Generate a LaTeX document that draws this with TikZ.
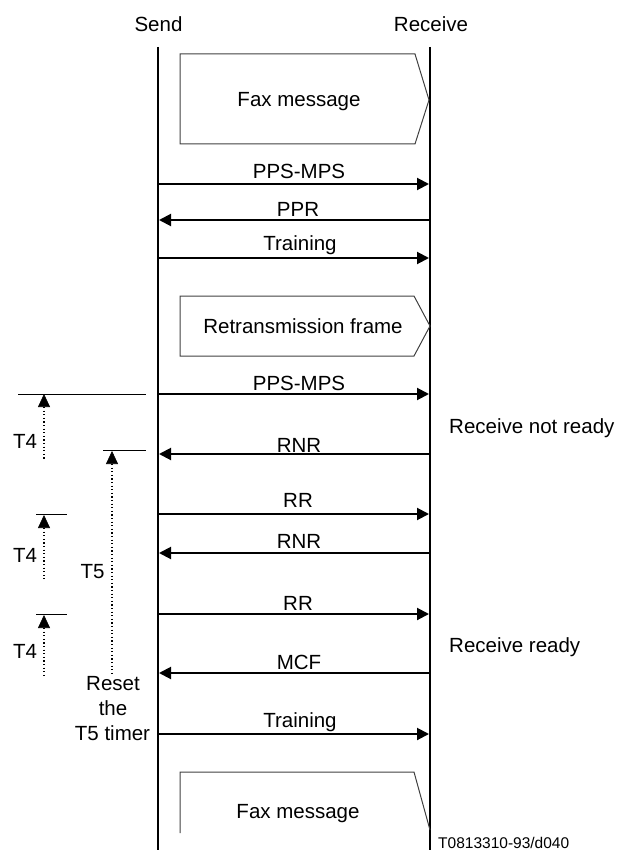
\documentclass[tikz,border=0pt]{standalone}
\usepackage{fontspec}
\setmainfont{Liberation Sans}
\usetikzlibrary{arrows.meta}
\begin{document}
\begin{tikzpicture}[x=1pt,y=-1pt,
  lifeline/.style={line width=2pt},
  msg/.style={line width=2pt,-{Triangle[length=12pt,width=12pt]}},
  msgbox/.style={line width=1pt,draw=black!75,line join=miter},
  lbl/.style={font=\fontsize{20.5}{25}\selectfont,anchor=base,inner sep=0pt},
  sidelbl/.style={font=\fontsize{20.5}{25}\selectfont,anchor=base west,inner sep=0pt},
  reflbl/.style={font=\fontsize{15.5}{18}\selectfont,anchor=base west,inner sep=0pt},
  guide/.style={line width=1pt},
  dotline/.style={line width=1.2pt,dash pattern=on 1.2pt off 2.4pt},
  uptip/.style={line width=0.6pt,-{Triangle[length=13pt,width=12pt]}}
]
\useasboundingbox (0,0) rectangle (618,850);

% headers and lifelines
\node[lbl] (send) at (158.5,32) {Send};
\node[lbl] (recv) at (431,32) {Receive};
\coordinate (stop) at (158,47);
\coordinate (sbot) at (158,850);
\coordinate (rtop) at (430,47);
\coordinate (rbot) at (430,850);
\draw[lifeline] (stop) -- (sbot);
\draw[lifeline] (rtop) -- (rbot);

% fax message (top)
\draw[msgbox] (180,54) -- (415,54) -- (429,100) -- (415,144) -- (180,144) -- cycle;
\node[lbl] (fax1) at (299,107) {Fax message};

% messages
\coordinate (s1) at (158,184); \coordinate (r1) at (429,184);
\draw[msg] (s1) -- (r1);
\node[lbl] (m1) at (299,179) {PPS-MPS};

\coordinate (s2) at (159,220); \coordinate (r2) at (430,220);
\draw[msg] (r2) -- (s2);
\node[lbl] (m2) at (298,216) {PPR};

\coordinate (s3) at (158,258); \coordinate (r3) at (429,258);
\draw[msg] (s3) -- (r3);
\node[lbl] (m3) at (300,250) {Training};

% retransmission frame
\draw[msgbox] (180,296) -- (414,296) -- (430,326) -- (414,356) -- (180,356) -- cycle;
\node[lbl] (retx) at (303,333) {Retransmission frame};

\coordinate (s4) at (158,394); \coordinate (r4) at (429,394);
\draw[msg] (s4) -- (r4);
\node[lbl] (m4) at (299,390) {PPS-MPS};

\coordinate (s5) at (159,454); \coordinate (r5) at (430,454);
\draw[msg] (r5) -- (s5);
\node[lbl] (m5) at (299,452) {RNR};

\coordinate (s6) at (158,514); \coordinate (r6) at (429,514);
\draw[msg] (s6) -- (r6);
\node[lbl] (m6) at (298,507) {RR};

\coordinate (s7) at (159,553); \coordinate (r7) at (430,553);
\draw[msg] (r7) -- (s7);
\node[lbl] (m7) at (299,548) {RNR};

\coordinate (s8) at (158,614); \coordinate (r8) at (429,614);
\draw[msg] (s8) -- (r8);
\node[lbl] (m8) at (298,610) {RR};

\coordinate (s9) at (159,673); \coordinate (r9) at (430,673);
\draw[msg] (r9) -- (s9);
\node[lbl] (m9) at (299,669) {MCF};

\coordinate (s10) at (158,734); \coordinate (r10) at (429,734);
\draw[msg] (s10) -- (r10);
\node[lbl] (m10) at (300,727) {Training};

% fax message (bottom)
\draw[msgbox] (180,833) -- (180,772) -- (414,772) -- (430,830);
\node[lbl] (fax2) at (298,818) {Fax message};
\node[reflbl] (ref) at (438,848) {T0813310-93/d040};

% receiver states
\node[sidelbl] (rnr) at (449,433) {Receive not ready};
\node[sidelbl] (rr) at (449,652) {Receive ready};

% T4 (first)
\coordinate (ta1) at (18,394); \coordinate (ta2) at (146,394);
\draw[guide] (ta1) -- (ta2);
\coordinate (ta-tip) at (44,394); \coordinate (ta-base) at (44,407); \coordinate (ta-end) at (44,459);
\draw[uptip] (ta-base) -- (ta-tip);
\draw[dotline] (ta-base) -- (ta-end);
\node[lbl] (t4a) at (25,448) {T4};

% T5
\coordinate (tb1) at (103,450); \coordinate (tb2) at (146,450);
\draw[guide] (tb1) -- (tb2);
\coordinate (tb-tip) at (112,451); \coordinate (tb-base) at (112,464); \coordinate (tb-end) at (112,676);
\draw[uptip] (tb-base) -- (tb-tip);
\draw[dotline] (tb-base) -- (tb-end);
\node[lbl] (t5) at (92.5,578) {T5};

% T4 (second)
\coordinate (tc1) at (36,514); \coordinate (tc2) at (67,514);
\draw[guide] (tc1) -- (tc2);
\coordinate (tc-tip) at (44,515); \coordinate (tc-base) at (44,528); \coordinate (tc-end) at (44,579);
\draw[uptip] (tc-base) -- (tc-tip);
\draw[dotline] (tc-base) -- (tc-end);
\node[lbl] (t4b) at (25,562) {T4};

% T4 (third)
\coordinate (td1) at (36,614); \coordinate (td2) at (67,614);
\draw[guide] (td1) -- (td2);
\coordinate (td-tip) at (44,615); \coordinate (td-base) at (44,628); \coordinate (td-end) at (44,678);
\draw[uptip] (td-base) -- (td-tip);
\draw[dotline] (td-base) -- (td-end);
\node[lbl] (t4c) at (25,658) {T4};

% reset note
\node[lbl] (reset1) at (113,690) {Reset};
\node[lbl] (reset2) at (113,715) {the};
\node[lbl] (reset3) at (112.5,740) {T5 timer};
\end{tikzpicture}
\end{document}
